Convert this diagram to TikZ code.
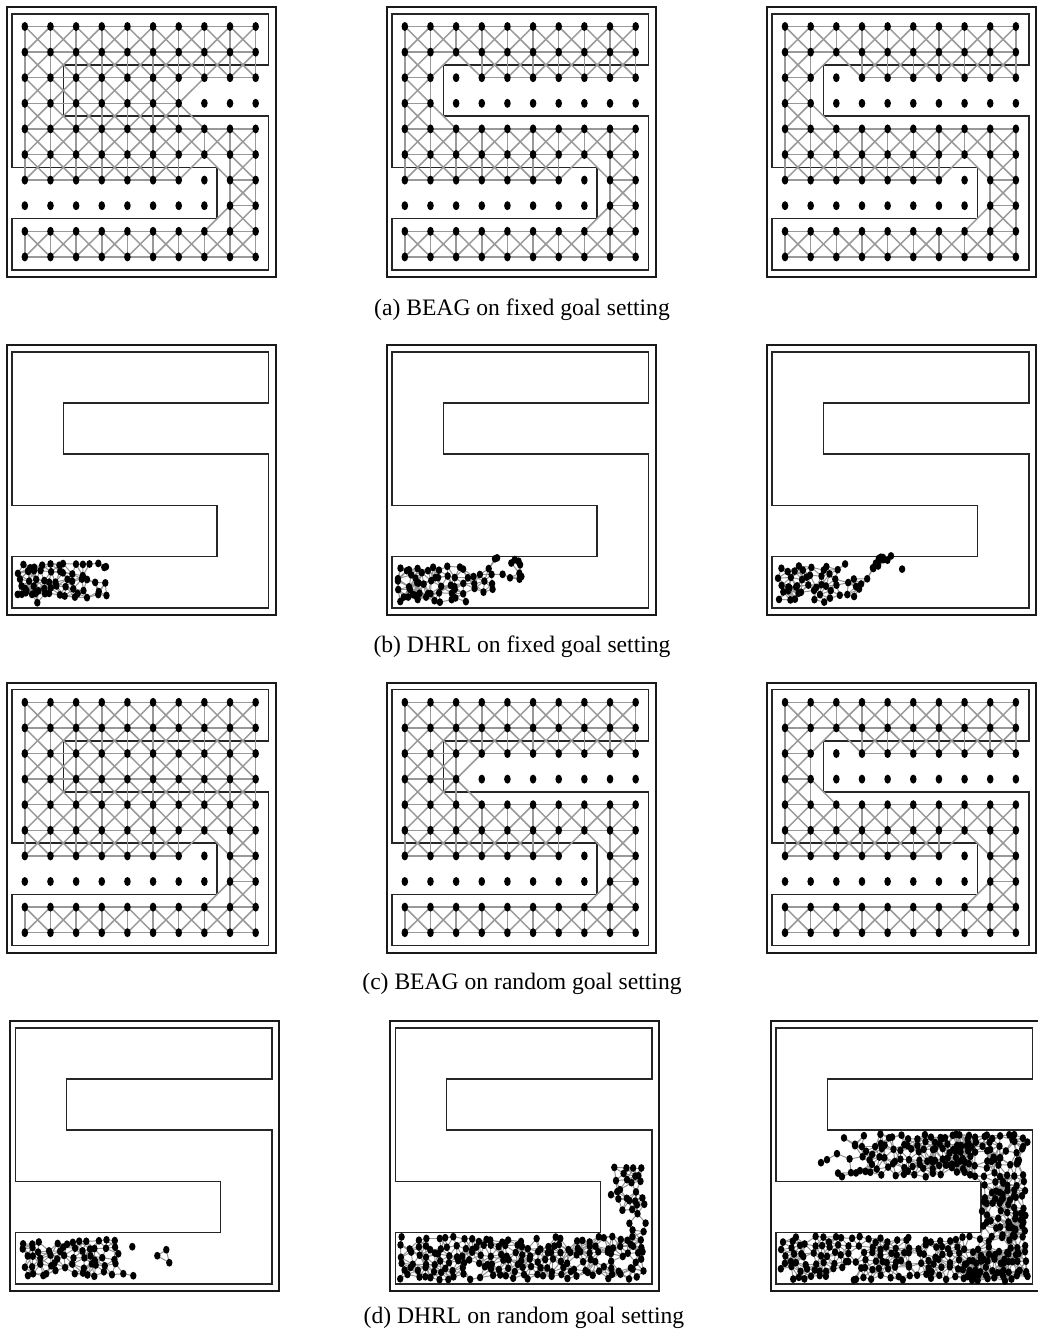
\documentclass[tikz,border=0pt]{standalone}
\usepackage{fontspec}
\setmainfont{Liberation Serif}
\tikzset{
  framel/.style={line width=1pt, draw=black!90},
  mazel/.style={line width=0.8pt, draw=black!85, line join=miter},
  gedge/.style={line width=0.75pt, draw=black!40},
  cedge/.style={line width=0.5pt, draw=black!42},
  dotc/.style={fill=black},
  captext/.style={font=\fontsize{11.8pt}{14pt}\selectfont, inner sep=0pt, anchor=base}
}
\newif\ifactive
\newcommand\testactive[2]{%
  \activetrue
  \ifnum#1<0 \activefalse\fi
  \ifnum#1>9 \activefalse\fi
  \ifnum#2<0 \activefalse\fi
  \ifnum#2>9 \activefalse\fi
  \ifnum#1=2 \ifnum#2<\rAlo\else\ifnum#2>\rAhi\else\activefalse\fi\fi\fi
  \ifnum#1=3 \ifnum#2<\rBlo\else\ifnum#2>\rBhi\else\activefalse\fi\fi\fi
  \ifnum#1=6 \ifnum#2=7 \activefalse\fi\fi
  \ifnum#1=7 \ifnum#2<8 \activefalse\fi\fi
}
\newcommand\mazeframe[2]{%
  \draw[framel] (#1,#2) rectangle ++(269,270);
  \begin{scope}[shift={({#1+5.3},{#2+7})},xscale=51.3,yscale=51.2]
    \draw[mazel] (0,0) -- (5,0) -- (5,1) -- (1,1) -- (1,2) -- (5,2) -- (5,5) -- (0,5) -- (0,4) -- (4,4) -- (4,3) -- (0,3) -- cycle;
  \end{scope}
}
\newcommand\gridpanel[7]{%
  \def\rAlo{#4}\def\rAhi{#5}\def\rBlo{#6}\def\rBhi{#7}%
  \mazeframe{#2}{#3}%
  \foreach \r in {0,...,9}{\foreach \c in {0,...,9}{%
    \coordinate (#1-\r-\c) at ({#2+5.3+(\c+0.5)*25.65},{#3+7+(\r+0.5)*25.6});}}
  \foreach \r in {0,...,9}{\foreach \c in {0,...,9}{%
    \testactive{\r}{\c}%
    \ifactive
      \edef\rn{\the\numexpr\r+1\relax}\edef\cn{\the\numexpr\c+1\relax}\edef\cp{\the\numexpr\c-1\relax}%
      \testactive{\r}{\cn}\ifactive\draw[gedge] (#1-\r-\c) -- (#1-\r-\cn);\fi
      \testactive{\rn}{\c}\ifactive\draw[gedge] (#1-\r-\c) -- (#1-\rn-\c);\fi
      \testactive{\rn}{\cn}\ifactive\draw[gedge] (#1-\r-\c) -- (#1-\rn-\cn);\fi
      \testactive{\rn}{\cp}\ifactive\draw[gedge] (#1-\r-\c) -- (#1-\rn-\cp);\fi
    \fi}}
  \foreach \r in {0,...,9}{\foreach \c in {0,...,9}{%
    \fill[dotc] (#1-\r-\c) ellipse [x radius=1.65pt, y radius=2.25pt];}}
}
\newcount\npts \newcount\ia \newcount\ib \newcount\thr
\newcommand\startcloud{\global\npts=0 }
\newcommand\addpt[2]{\global\advance\npts by 1
  \expandafter\xdef\csname cpx\the\npts\endcsname{\number#1}%
  \expandafter\xdef\csname cpy\the\npts\endcsname{\number#2}}
\newcommand\region[5]{\foreach \k in {1,...,#5}{%
  \pgfmathtruncatemacro\rx{10*(#1+rnd*(#2-#1))}%
  \pgfmathtruncatemacro\ry{10*(#3+rnd*(#4-#3))}%
  \addpt{\rx}{\ry}}}
\newcommand\jregion[6]{%
  \pgfmathtruncatemacro\jnx{(#2-#1)/#5-1}%
  \pgfmathtruncatemacro\jny{(#4-#3)/#5-1}%
  \foreach \i in {0,...,\jnx}{\foreach \j in {0,...,\jny}{%
    \pgfmathtruncatemacro\keep{rnd<#6 ? 1 : 0}%
    \ifnum\keep=1
      \pgfmathtruncatemacro\rx{10*(#1+(\i+0.5+0.8*(rnd-0.5))*#5)}%
      \pgfmathtruncatemacro\ry{10*(#3+(\j+0.5+0.8*(rnd-0.5))*#5)}%
      \addpt{\rx}{\ry}%
    \fi}}}
\newcommand\fixpt[2]{\addpt{\numexpr#1*10\relax}{\numexpr#2*10\relax}}
\newcommand\placecloud[4]{%
  \ia=1
  \loop\ifnum\ia<\numexpr\npts+1\relax
    \edef\na{#1-\the\ia}\edef\xx{\csname cpx\the\ia\endcsname}\edef\yy{\csname cpy\the\ia\endcsname}%
    \coordinate (\na) at ({#2+\xx/10},{#3+\yy/10});
    \advance\ia by 1
  \repeat
  \thr=\numexpr#4*#4*100\relax
  \ia=1
  \loop\ifnum\ia<\npts
    \ib=\ia \advance\ib by 1
    \edef\xa{\csname cpx\the\ia\endcsname}\edef\ya{\csname cpy\the\ia\endcsname}%
    {\loop\ifnum\ib<\numexpr\npts+1\relax
       \edef\dx{\the\numexpr\xa-\csname cpx\the\ib\endcsname\relax}%
       \edef\dy{\the\numexpr\ya-\csname cpy\the\ib\endcsname\relax}%
       \ifnum\numexpr(\dx)*(\dx)+(\dy)*(\dy)\relax<\thr
         \edef\na{#1-\the\ia}\edef\nb{#1-\the\ib}%
         \draw[cedge] (\na) -- (\nb);
       \fi
       \advance\ib by 1
     \repeat}%
    \advance\ia by 1
  \repeat
  \ia=1
  \loop\ifnum\ia<\numexpr\npts+1\relax
    \edef\na{#1-\the\ia}\fill[dotc] (\na) ellipse [x radius=1.6pt, y radius=1.95pt];
    \advance\ia by 1
  \repeat
}
\begin{document}
\begin{tikzpicture}[x=0.5pt,y=-0.5pt]
\useasboundingbox (0,0) rectangle (1038,1329);
\fill[white] (0,0) rectangle (1038,1329);
% (a)
\gridpanel{a1}{6.7}{6.7}{10}{-1}{7}{9}
\gridpanel{a2}{386.7}{6.7}{2}{2}{2}{9}
\gridpanel{a3}{766.9}{6.7}{2}{2}{2}{9}
\node[captext] (capa) at (522,315) {(a) BEAG on fixed goal setting};
% (b)
\mazeframe{6.7}{344.7}
\startcloud\pgfmathsetseed{11}
\jregion{5}{73}{210}{254}{7.5}{1}
\jregion{73}{97}{210}{250}{8}{0.6}
\region{5}{30}{212}{252}{8}
\fixpt{94}{215}
\placecloud{b1}{12}{351.7}{14}
\mazeframe{386.7}{344.7}
\startcloud\pgfmathsetseed{12}
\jregion{5}{78}{212}{254}{8}{0.95}
\jregion{78}{102}{210}{246}{8}{0.7}
\region{98}{133}{205}{228}{11}
\region{5}{30}{214}{252}{6}
\placecloud{b2}{392}{351.7}{14}
\mazeframe{766.9}{344.7}
\startcloud\pgfmathsetseed{13}
\jregion{5}{70}{213}{254}{8}{0.95}
\jregion{70}{102}{210}{250}{8}{0.65}
\region{100}{132}{203}{225}{12}
\region{5}{30}{214}{252}{6}
\placecloud{b3}{772.2}{351.7}{14}
\node[captext] (capb) at (522,652) {(b) DHRL on fixed goal setting};
% (c)
\gridpanel{c1}{6.7}{682.5}{10}{-1}{10}{-1}
\gridpanel{c2}{386.7}{682.5}{10}{-1}{3}{9}
\gridpanel{c3}{766.9}{682.5}{2}{2}{2}{9}
\node[captext] (capc) at (522,989) {(c) BEAG on random goal setting};
% (d)
\mazeframe{10}{1020.7}
\startcloud\pgfmathsetseed{21}
\jregion{6}{102}{210}{254}{8}{0.95}
\fixpt{103}{226}\fixpt{117}{219}\fixpt{118}{248}\fixpt{108}{246}
\fixpt{142}{228}\fixpt{151}{222}\fixpt{154}{235}
\placecloud{d1}{15.3}{1027.7}{14}
\mazeframe{390}{1020.7}
\startcloud\pgfmathsetseed{22}
\jregion{4}{253}{208}{254}{7.5}{0.85}
\jregion{220}{252}{158}{208}{8}{0.6}
\jregion{218}{252}{134}{158}{8}{0.85}
\region{214}{250}{140}{205}{8}
\placecloud{d2}{395.3}{1027.7}{14}
\mazeframe{770.7}{1020.7}
\startcloud\pgfmathsetseed{23}
\jregion{4}{253}{208}{254}{7.5}{0.9}
\region{190}{253}{225}{254}{30}
\jregion{206}{254}{152}{208}{7.5}{0.95}
\region{206}{253}{152}{208}{15}
\jregion{85}{254}{105}{152}{7.5}{0.85}
\region{150}{253}{105}{140}{25}
\region{62}{85}{110}{150}{6}
\fixpt{45}{135}\fixpt{51}{132}\fixpt{61}{126}\fixpt{66}{149}\fixpt{75}{145}\fixpt{84}{143}
\placecloud{d3}{776}{1027.7}{14}
\node[captext] (capd) at (524,1323) {(d) DHRL on random goal setting};
\end{tikzpicture}
\end{document}
